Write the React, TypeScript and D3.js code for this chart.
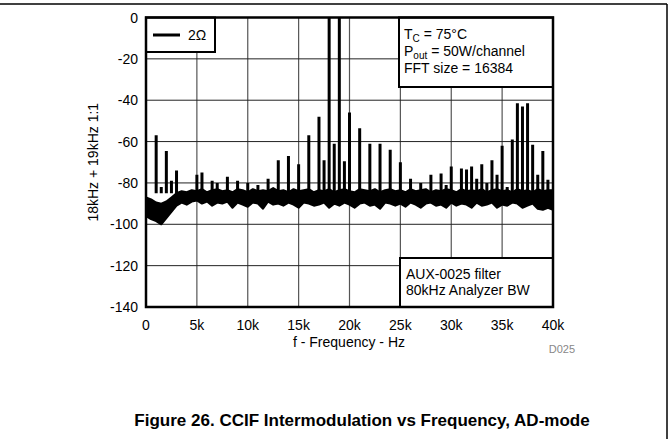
import * as d3 from "d3";

// x axis (kHz) and y axis (dB) ticks
const freqTicks = [0, 5, 10, 15, 20, 25, 30, 35, 40];
const freqLabels = ["0", "5k", "10k", "15k", "20k", "25k", "30k", "35k", "40k"];
const levelTicks = [0, -20, -40, -60, -80, -100, -120, -140];

// noise floor envelope, one value every 0.5 kHz from 0 to 40 kHz
const floorStep = 0.5;
const floorHi = [
  -87, -88, -89.5, -90, -89, -87, -85, -84, -84.5, -83.5,
  -84, -83, -84.5, -83.5, -83, -84, -83.5, -84.5, -83, -83.5,
  -84.5, -83, -84, -83.5, -84, -82.5, -84, -83.5, -84.5, -83,
  -84, -83.5, -83, -84.5, -83.5, -84, -83, -84.5, -83.5, -83,
  -84, -84.5, -83, -83.5, -84, -83, -84.5, -83.5, -83, -84,
  -83.5, -84.5, -83, -84, -83.5, -83, -84.5, -83.5, -84, -83,
  -83.5, -84.5, -83, -84, -83.5, -84, -83, -84.5, -83.5, -83,
  -84, -83.5, -84.5, -83, -84, -83.5, -84.5, -83, -84, -83.5, -83.5,
];
const floorLo = [
  -96, -97.5, -98.5, -100, -97, -94, -91, -89.5, -90.5, -89,
  -88.5, -90, -89, -91, -89.5, -90, -89, -92, -89.5, -90.5,
  -91.5, -89.5, -90, -92.5, -89, -90.5, -90, -91, -89.5, -90.5,
  -92, -89.5, -90, -91, -90.5, -89.5, -92, -90, -91, -89.5,
  -90.5, -92, -90, -89.5, -91, -90.5, -92.5, -89.5, -90, -91,
  -90, -91.5, -89.5, -90.5, -92, -90, -89.5, -91, -90.5, -92,
  -89.5, -91, -90, -90.5, -92, -89.5, -91, -90.5, -89.5, -92,
  -90.5, -91, -89.5, -90, -92, -91, -90, -92.5, -93, -92, -93,
];

// intermodulation / harmonic spikes: frequency (kHz) and level (dB)
const spikeFreq = [
  1, 1.5, 2, 2.5, 3, 5, 5.5, 6.5, 7, 8, 9, 10, 11, 12, 13, 14, 15, 16, 17, 17.5,
  18, 18.5, 19, 19.5, 20, 21, 22, 23, 24, 25, 26, 27, 28, 29, 29.5, 30, 31, 31.5,
  32, 32.5, 33, 33.5, 34, 34.5, 35, 35.5, 36, 36.5, 37, 37.5, 38, 38.5, 39, 39.5,
];
const spikeLevel = [
  -57, -82, -64.5, -79, -74, -76, -75, -79, -80, -77, -79, -80, -81, -78, -69, -67, -71, -57, -48, -69,
  0, -61, 0, -69.5, -46, -53.5, -61, -61, -64, -70, -78, -80, -76, -75.5, -81, -72, -73, -73.5,
  -72, -78, -71, -80, -69, -76, -62, -82, -59, -41.5, -43, -41.5, -61.5, -76, -64.5, -78.5,
];

const font = "'Liberation Sans', Arial, Helvetica, sans-serif";

export default function App() {
  const W = 669;
  const H = 439;
  const left = 146;
  const right = 553;
  const top = 17.5;
  const bottom = 307;

  const x = d3.scaleLinear().domain([0, 40]).range([left, right]);
  const y = d3.scaleLinear().domain([0, -140]).range([top, bottom]);

  const floorData = floorHi.map((hi, i) => ({ f: i * floorStep, hi, lo: floorLo[i] }));
  const area = d3
    .area<{ f: number; hi: number; lo: number }>()
    .x((d) => x(d.f))
    .y0((d) => y(d.lo))
    .y1((d) => y(d.hi))
    .curve(d3.curveLinear);

  return (
    <svg
      width={W}
      height={H}
      style={{ position: "absolute", left: 0, top: 0, background: "#fff" }}
      fontFamily={font}
    >
      <defs>
        <clipPath id="plot">
          <rect x={left} y={top} width={right - left} height={bottom - top} />
        </clipPath>
      </defs>
      {/* outer frame */}
      <line x1={0} x2={667} y1={4} y2={4} stroke="#000" strokeWidth={1.5} />
      <line x1={667} x2={667} y1={4} y2={H} stroke="#000" strokeWidth={1.5} />

      {/* grid */}
      {freqTicks.map((t) => (
        <line key={"vx" + t} x1={x(t)} x2={x(t)} y1={top} y2={bottom} stroke="#555" strokeWidth={1.2} />
      ))}
      {levelTicks.map((t) => (
        <line key={"hy" + t} x1={left} x2={right} y1={y(t)} y2={y(t)} stroke="#222" strokeWidth={1} />
      ))}

      <g clipPath="url(#plot)">
        <path d={area(floorData) ?? ""} fill="#000" stroke="#000" strokeWidth={2} strokeLinejoin="round" />
        {spikeFreq.map((f, i) => (
          <line
            key={"s" + f}
            x1={x(f)}
            x2={x(f)}
            y1={y(-85)}
            y2={y(spikeLevel[i])}
            stroke="#000"
            strokeWidth={3}
          />
        ))}
      </g>

      {/* legend */}
      <rect x={left} y={top} width={69} height={34.5} fill="#fff" stroke="#000" strokeWidth={2} />
      <line x1={153} x2={180} y1={35} y2={35} stroke="#000" strokeWidth={3} />
      <text x={188} y={40} fontSize={14}>2Ω</text>

      {/* conditions box */}
      <rect x={399} y={top} width={right - 399} height={87 - top} fill="#fff" stroke="#000" strokeWidth={2} />
      <text x={404} y={39} fontSize={14}>
        T<tspan fontSize={10} dy={3}>C</tspan>
        <tspan dy={-3}> = 75°C</tspan>
      </text>
      <text x={404} y={56} fontSize={14}>
        P<tspan fontSize={10} dy={3}>out</tspan>
        <tspan dy={-3}> = 50W/channel</tspan>
      </text>
      <text x={404} y={72.5} fontSize={14}>FFT size = 16384</text>

      {/* filter box */}
      <rect x={400} y={258} width={right - 400} height={bottom - 258} fill="#fff" stroke="#000" strokeWidth={2} />
      <text x={406} y={279} fontSize={14}>AUX-0025 filter</text>
      <text x={406} y={295} fontSize={14}>80kHz Analyzer BW</text>

      {/* plot border */}
      <rect x={left} y={top} width={right - left} height={bottom - top} fill="none" stroke="#000" strokeWidth={2.5} />

      {/* y tick labels */}
      {levelTicks.map((t) => (
        <text key={"yl" + t} x={138} y={y(t) + 5} fontSize={14} textAnchor="end">
          {t}
        </text>
      ))}
      {/* x tick labels */}
      {freqTicks.map((t, i) => (
        <text key={"xl" + t} x={x(t)} y={330} fontSize={14} textAnchor="middle">
          {freqLabels[i]}
        </text>
      ))}

      <text x={349} y={347} fontSize={14} textAnchor="middle">f - Frequency - Hz</text>
      <text
        transform={`translate(98,${(top + bottom) / 2}) rotate(-90)`}
        fontSize={14}
        textAnchor="middle"
      >
        18kHz + 19kHz 1:1
      </text>
      <text x={575} y={353} fontSize={11} textAnchor="end" fill="#888">D025</text>

      <text x={362} y={426} fontSize={17} fontWeight="bold" textAnchor="middle">
        Figure 26. CCIF Intermodulation vs Frequency, AD-mode
      </text>
    </svg>
  );
}
